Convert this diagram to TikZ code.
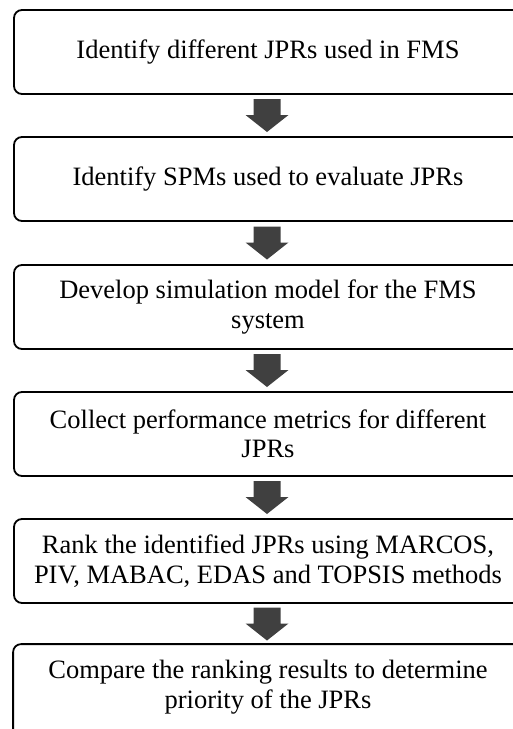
\documentclass[tikz,border=0pt]{standalone}
\usepackage{fontspec}
\setmainfont{Liberation Serif}
\usetikzlibrary{calc}
\definecolor{arrowgray}{HTML}{404040}
\tikzset{
  frame/.style={draw=black, line width=1.8pt, rounded corners=8pt},
  stepbox/.style={frame, fill=white,
    minimum width=508pt, minimum height=84pt, inner sep=0pt, align=center,
    font=\fontsize{26.5}{29.5}\selectfont},
  downarrow/.pic={\fill[arrowgray] (-13.5,-16.5) -- (13.5,-16.5) -- (13.5,-0.5) -- (21.5,-0.5) -- (0,16.5) -- (-21.5,-0.5) -- (-13.5,-0.5) -- cycle;}
}
\begin{document}
\begin{tikzpicture}[x=1pt,y=-1pt]
\useasboundingbox (0,0) rectangle (513,729);
\clip (0,0) rectangle (513,729);
\node[stepbox] (b1) at (268,52) {Identify different JPRs used in FMS};
\node[stepbox] (b2) at (268,179) {Identify SPMs used to evaluate JPRs};
\node[stepbox] (b3) at (268,307) {Develop simulation model for the FMS\\system};
\node[stepbox] (b4) at (268,434) {Collect performance metrics for different\\JPRs};
\node[stepbox] (b5) at (268,561) {Rank the identified JPRs using MARCOS,\\PIV, MABAC, EDAS and TOPSIS methods};
\node[stepbox, draw=none, fill=none] (b6) at (268,687) {Compare the ranking results to determine\\priority of the JPRs};
\draw[frame] ($(b6.south west)+(0,20)$) rectangle (b6.north east);
\path ($(b1.south)!0.5!(b2.north)$) ++(-1,0) pic {downarrow};
\path ($(b2.south)!0.5!(b3.north)$) ++(-1,0) pic {downarrow};
\path ($(b3.south)!0.5!(b4.north)$) ++(-1,0) pic {downarrow};
\path ($(b4.south)!0.5!(b5.north)$) ++(-1,0) pic {downarrow};
\path ($(b5.south)!0.5!(b6.north)$) ++(-1,0) pic {downarrow};
\end{tikzpicture}
\end{document}
